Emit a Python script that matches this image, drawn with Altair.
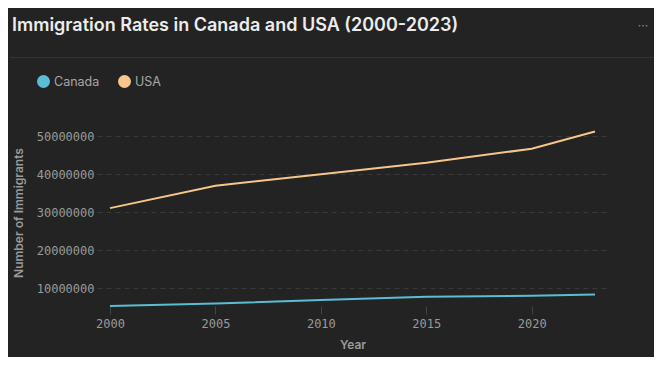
import altair as alt
import pandas as pd

years = [2000, 2005, 2010, 2015, 2020, 2023]
canada = [5400000, 6050000, 7000000, 7800000, 8100000, 8400000]
usa = [31100000, 37000000, 40000000, 43000000, 46700000, 51200000]
series = ["Canada", "USA"]
colors = ["#5bbcd6", "#f6c68b"]
x_ticks = [2000, 2005, 2010, 2015, 2020]
y_ticks = [10000000, 20000000, 30000000, 40000000, 50000000]

rows = []
for name, vals in zip(series, [canada, usa]):
    for yr, v in zip(years, vals):
        rows.append({"Year": yr, "Immigrants": v, "Country": name})
df = pd.DataFrame(rows)

base = alt.Chart(df)

lines = base.mark_line(
    strokeWidth=2, point=alt.OverlayMarkDef(filled=True, size=0, opacity=0)
).encode(
    x=alt.X(
        "Year:Q",
        title="Year",
        scale=alt.Scale(domain=[2000, 2023], nice=False, zero=False, padding=13),
        axis=alt.Axis(values=x_ticks, format="d", grid=False, domain=False,
                      ticks=True, tickSize=8, tickColor="#444444",
                      labelPadding=4, titlePadding=10),
    ),
    y=alt.Y(
        "Immigrants:Q",
        title="Number of Immigrants",
        scale=alt.Scale(domain=[5400000, 54500000], nice=False, zero=False),
        axis=alt.Axis(values=y_ticks, format="d", grid=True, domain=False,
                      ticks=False, labelPadding=3, titlePadding=11,
                      gridDash=[5, 4], gridColor="#383938"),
    ),
    color=alt.Color(
        "Country:N",
        scale=alt.Scale(domain=series, range=colors),
        legend=alt.Legend(orient="none", legendX=-60, legendY=-44, direction="horizontal",
                          title=None, symbolType="circle", symbolSize=169,
                          symbolStrokeWidth=0, symbolOpacity=1, labelOffset=4,
                          columnPadding=18,
                          labelColor="#a8a8a8", labelFontSize=12.5, labelFont="Inter",
                          padding=0),
    ),
)

sep = alt.Chart(pd.DataFrame({"a": [0]})).mark_rule(color="#333433", strokeWidth=1).encode(
    x=alt.value(-87), x2=alt.value(557), y=alt.value(-61.5)
)

menu = alt.Chart(pd.DataFrame({"a": [0]})).mark_text(
    text="···", color="#8a8a8a", fontSize=12, font="Inter"
).encode(x=alt.value(546), y=alt.value(-93))

chart = alt.layer(lines, sep, menu).properties(
    width=511,
    height=187,
    padding={"left": 89, "top": 111, "right": 46, "bottom": 51},
    autosize=alt.AutoSizeParams(type="none"),
    background="#222322",
    title=alt.TitleParams(
        "Immigration Rates in Canada and USA (2000-2023)",
        anchor="start", frame="group", dx=-85, dy=19,
        font="Inter", fontSize=18, fontWeight=600, color="#ececec",
    ),
).configure_view(stroke=None).configure_axis(
    labelFont="DejaVu Sans Mono", labelFontSize=12, labelColor="#9a9a9a",
    titleFont="Inter", titleFontSize=12, titleFontWeight=600, titleColor="#9a9a9a",
)

chart.save("out.html", embed_options={"renderer": "svg", "actions": False})
